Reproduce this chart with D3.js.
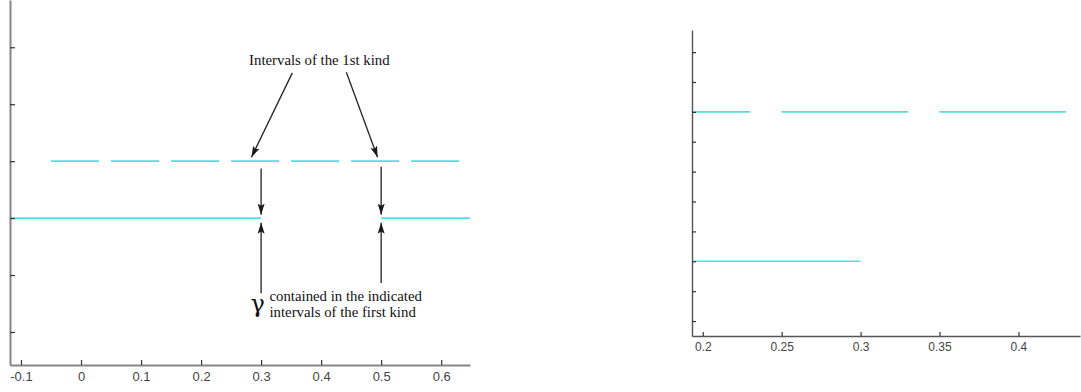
<!DOCTYPE html>
<html>
<head>
<meta charset="utf-8">
<script src="https://cdn.jsdelivr.net/npm/d3@7"></script>
<style>
  html, body { margin: 0; padding: 0; background: #fff; }
  svg { display: block; }
</style>
</head>
<body>
<svg id="chart" width="1081" height="392"></svg>
<script>
// ---- data ----
// Full view: x ticks, y tick levels
const mainXTicks = [-0.1, 0, 0.1, 0.2, 0.3, 0.4, 0.5, 0.6];
const mainYTicks = [1, 2, 3, 4, 5, 6];
// Intervals of the first kind (upper row, level 4)
const firstKindLevel = 4;
const firstKindIntervals = [[-0.05, 0.03], [0.05, 0.13], [0.15, 0.23], [0.25, 0.33],
                            [0.35, 0.43], [0.45, 0.53], [0.55, 0.63]];
// Intervals of gamma (lower row, level 3)
const gammaLevel = 3;
const gammaIntervals = [[-0.2, 0.3], [0.5, 0.7]];

// Zoomed view
const zoomXTicks = [0.2, 0.25, 0.3, 0.35, 0.4];
const zoomYTicks = [1, 2, 3, 4, 5, 6, 7, 8, 9, 10];
const zoomFirstKindLevel = 8;
const zoomFirstKindIntervals = [[0.15, 0.23], [0.25, 0.33], [0.35, 0.43]];
const zoomGammaLevel = 3;
const zoomGammaIntervals = [[0.15, 0.3]];

// Annotation arrows in data units: [x1, y1, x2, y2] (head at x2, y2)
const labelArrows = [[0.352, 5.55, 0.284, 4.07], [0.442, 5.56, 0.494, 4.07]];
const downArrows = [[0.3, 3.87, 0.3, 3.06], [0.5, 3.9, 0.5, 3.06]];
const upArrows = [[0.3, 1.68, 0.3, 2.92], [0.5, 1.86, 0.5, 2.92]];
const topLabel = { text: "Intervals of the 1st kind", x: 0.28, y: 5.69 };
const gammaLabel = { symbol: "γ", x: 0.284, y: 1.35,
                     lines: ["contained in the indicated", "intervals of the first kind"] };

// ---- drawing ----
const svg = d3.select("#chart");
const cyan = "#4fdfe4";

svg.append("defs").append("marker")
  .attr("id", "head")
  .attr("viewBox", "0 0 10 10")
  .attr("refX", 10).attr("refY", 5)
  .attr("markerWidth", 11).attr("markerHeight", 11)
  .attr("markerUnits", "userSpaceOnUse")
  .attr("orient", "auto")
  .append("path")
  .attr("d", "M0,1.8 L10,5 L0,8.2 L2,5 Z")
  .attr("fill", "#1a1a1a");

function panel(opts) {
  const g = svg.append("g");
  const x = d3.scaleLinear().domain(opts.xDomain).range(opts.xRange);
  const y = d3.scaleLinear().domain(opts.yDomain).range(opts.yRange);
  const [x0, x1] = opts.xDomain;
  const clamp = v => Math.max(x0, Math.min(x1, v));

  // interval rows
  opts.rows.forEach(row => {
    g.append("g").selectAll("line").data(row.intervals).join("line")
      .attr("x1", d => x(clamp(d[0])))
      .attr("x2", d => x(clamp(d[1])))
      .attr("y1", y(row.level)).attr("y2", y(row.level))
      .attr("stroke", cyan).attr("stroke-width", 1.6);
  });

  // axes
  const xAxis = g.append("g")
    .attr("transform", `translate(0,${opts.yRange[0]})`)
    .call(d3.axisBottom(x).tickValues(opts.xTicks).tickSizeInner(-opts.tick)
      .tickSizeOuter(0).tickPadding(opts.pad).tickFormat(d => String(d)));
  const yAxis = g.append("g")
    .attr("transform", `translate(${opts.xRange[0]},0)`)
    .call(d3.axisLeft(y).tickValues(opts.yTicks).tickSizeInner(-opts.tick)
      .tickSizeOuter(0).tickFormat(""));
  [xAxis, yAxis].forEach(a => {
    a.select(".domain").attr("stroke", opts.axisColor).attr("stroke-width", opts.axisWidth);
    a.selectAll(".tick line").attr("stroke", "#333").attr("stroke-width", 1.2);
  });
  xAxis.selectAll(".tick text")
    .attr("fill", "#444")
    .attr("font-family", "Liberation Sans, Arial, sans-serif")
    .attr("font-size", opts.fontSize);
  return { g, x, y };
}

const main = panel({
  xDomain: [-0.1183, 0.648], xRange: [10, 470],
  yDomain: [0.42, 6.83], yRange: [365, 0],
  xTicks: mainXTicks, yTicks: mainYTicks,
  rows: [{ level: firstKindLevel, intervals: firstKindIntervals },
         { level: gammaLevel, intervals: gammaIntervals }],
  tick: 5, pad: 6.5, fontSize: 13, axisColor: "#858585", axisWidth: 2
});

panel({
  xDomain: [0.1932, 0.439], xRange: [692, 1080],
  yDomain: [0.5, 10.74], yRange: [336, 30],
  xTicks: zoomXTicks, yTicks: zoomYTicks,
  rows: [{ level: zoomFirstKindLevel, intervals: zoomFirstKindIntervals },
         { level: zoomGammaLevel, intervals: zoomGammaIntervals }],
  tick: 4, pad: 6, fontSize: 12, axisColor: "#555", axisWidth: 1.4
});

// annotations on the full view
const { g, x, y } = main;
const ann = g.append("g");
ann.selectAll("line.arrow")
  .data([...labelArrows, ...downArrows, ...upArrows])
  .join("line")
  .attr("class", "arrow")
  .attr("x1", d => x(d[0])).attr("y1", d => y(d[1]))
  .attr("x2", d => x(d[2])).attr("y2", d => y(d[3]))
  .attr("stroke", "#222").attr("stroke-width", 1.3)
  .attr("marker-end", "url(#head)");

const serif = "Liberation Serif, Times New Roman, serif";
ann.append("text")
  .attr("x", x(topLabel.x)).attr("y", y(topLabel.y))
  .attr("font-family", serif).attr("font-size", 14.8).attr("fill", "#111")
  .text(topLabel.text);

ann.append("text")
  .attr("x", x(gammaLabel.x) - 1).attr("y", 312)
  .attr("font-family", "DejaVu Serif, serif").attr("font-size", 24).attr("fill", "#111")
  .text(gammaLabel.symbol);

ann.append("g").selectAll("text").data(gammaLabel.lines).join("text")
  .attr("x", x(gammaLabel.x) + 18)
  .attr("y", (d, i) => 301 + i * 16)
  .attr("font-family", serif).attr("font-size", 14.8).attr("fill", "#111")
  .text(d => d);
</script>
</body>
</html>
